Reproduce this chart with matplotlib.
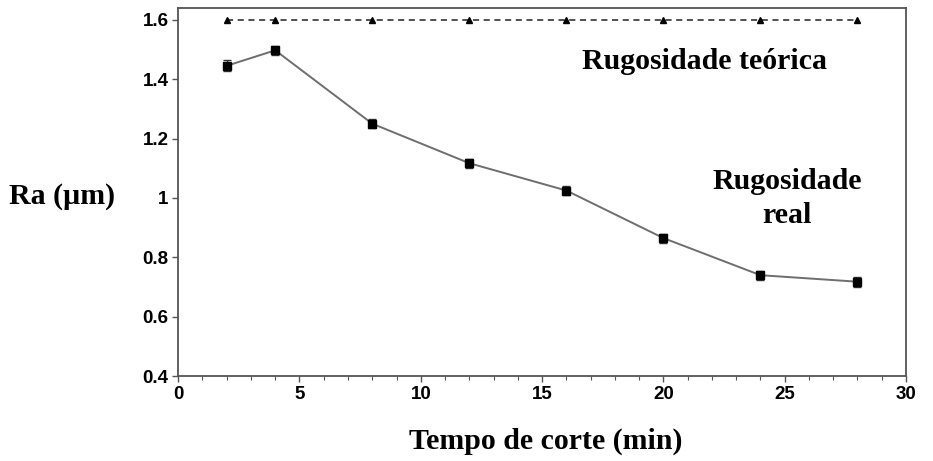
import matplotlib
matplotlib.use("Agg")
import matplotlib.pyplot as plt
from matplotlib.ticker import MultipleLocator

# cutting time (min) and measured roughness
tempo = [2, 4, 8, 12, 16, 20, 24, 28]
ra_real = [1.445, 1.497, 1.250, 1.117, 1.025, 0.865, 0.740, 0.718]
ra_erro = [0.018, 0.015, 0.015, 0.015, 0.015, 0.015, 0.015, 0.017]
ra_teorica = [1.6, 1.6, 1.6, 1.6, 1.6, 1.6, 1.6, 1.6]

fig = plt.figure(figsize=(9.33, 4.61), dpi=100)
ax = fig.add_axes([0.191, 0.184, 0.780, 0.799])

ax.plot(tempo, ra_teorica, linestyle=(0, (4, 3)), color="#222222", linewidth=1.1,
        marker="^", markersize=4.5, markerfacecolor="black", markeredgecolor="black")
ax.errorbar(tempo, ra_real, yerr=ra_erro, color="#6e6e6e", linewidth=1.4,
            marker="s", markersize=5.5, markerfacecolor="black", markeredgecolor="black",
            ecolor="#333333", elinewidth=1.0, capsize=3)

ax.set_xlim(0, 30)
ax.set_ylim(0.4, 1.64)
ax.xaxis.set_major_locator(MultipleLocator(5))
ax.xaxis.set_minor_locator(MultipleLocator(1))
ax.set_yticks([0.4, 0.6, 0.8, 1.0, 1.2, 1.4, 1.6])
ax.set_yticklabels(["0.4", "0.6", "0.8", "1", "1.2", "1.4", "1.6"])

for s in ax.spines.values():
    s.set_color("#555555")
    s.set_linewidth(1.3)
ax.tick_params(axis="both", which="major", length=4, width=1, color="#555555",
               labelsize=13.5, pad=3)
ax.tick_params(axis="x", which="minor", length=3, width=0.8, color="#555555")
for lbl in ax.get_xticklabels() + ax.get_yticklabels():
    lbl.set_fontfamily("Liberation Sans")
    lbl.set_fontweight("bold")

serif = dict(family="Liberation Serif", fontweight="bold", fontsize=21.5)
fig.text(0.0665, 0.573, "Ra (µm)", ha="center", va="center", **serif)
fig.text(0.585, 0.043, "Tempo de corte (min)", ha="center", va="center", **serif)
ax.text(21.7, 1.458, "Rugosidade teórica", ha="center", va="center", **serif)
ax.text(25.1, 0.998, "Rugosidade\nreal", ha="center", va="center",
        linespacing=1.32, **serif)

fig.savefig("out.png", dpi=100)
